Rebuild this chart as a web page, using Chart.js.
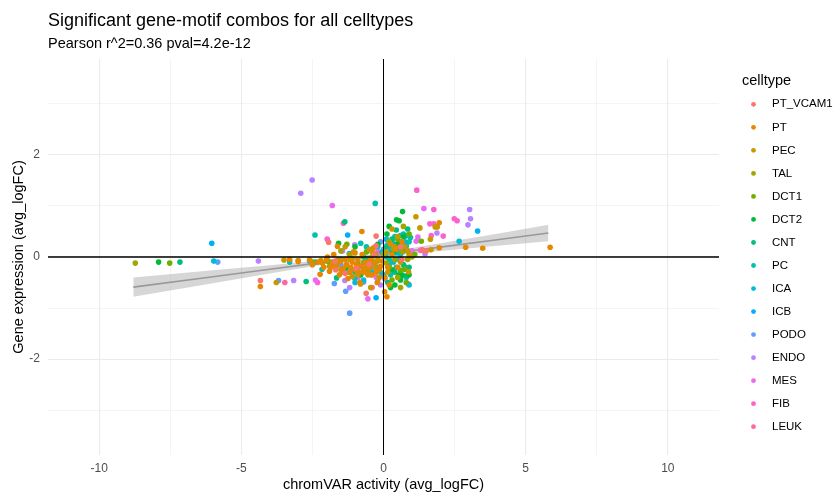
<!DOCTYPE html>
<html>
<head>
<meta charset="utf-8">
<script src="https://cdn.jsdelivr.net/npm/chart.js@4.4.1/dist/chart.umd.min.js"></script>
<style>
  html, body { margin: 0; padding: 0; background: #fff; }
</style>
</head>
<body>
<canvas id="chart" width="834" height="494"></canvas>
<script>
// celltypes in legend order, with ggplot's default hue palette
const celltypes = ['PT_VCAM1', 'PT', 'PEC', 'TAL', 'DCT1', 'DCT2', 'CNT', 'PC', 'ICA', 'ICB', 'PODO', 'ENDO', 'MES', 'FIB', 'LEUK'];
const palette = ['#F8766D', '#E58700', '#C99800', '#A3A500', '#6BB100', '#00BA38', '#00BF7D', '#00C0AF', '#00BCD8', '#00B0F6', '#619CFF', '#B983FF', '#E76BF3', '#FD61D1', '#FF67A4'];

// [chromVAR avg_logFC, gene avg_logFC] per significant combo
const ptVcam1 = [[-4.33,-0.46],[-1.93,0.29],[-1.68,-0.25],[-0.26,0.41],[-0.26,0.22],[-0.61,-0.71],[-0.95,-0.22],[-1.35,-0.32],[-0.5,-0.14],[-0.32,0.04],[0.6,0.2],[1.38,0.13],[1.5,0.12],[-1.7,-0.08],[0.65,-0.05]];
const pt = [[-4.33,-0.58],[-3.3,-0.05],[-3.0,-0.09],[-2.6,-0.06],[-2.3,-0.1],[-2.23,-0.34],[-2.15,-0.12],[-2.1,-0.2],[-2.0,-0.04],[-1.97,0.0],[-1.9,-0.28],[-1.85,-0.2],[-1.8,-0.12],[-1.7,-0.2],[-1.62,0.21],[-1.6,-0.1],[-1.55,-0.35],[-1.5,-0.08],[-1.45,-0.3],[-1.42,-0.22],[-1.35,-0.05],[-1.3,-0.15],[-1.25,-0.42],[-1.2,-0.3],[-1.15,-0.2],[-1.1,-0.1],[-1.05,0.1],[-1.0,-0.25],[-0.95,-0.15],[-0.9,-0.05],[-0.85,-0.3],[-0.83,-0.5],[-0.8,-0.18],[-0.76,0.5],[-0.75,0.05],[-0.7,-0.3],[-0.65,-0.22],[-0.6,-0.1],[-0.55,-0.35],[-0.5,-0.22],[-0.45,-0.05],[-0.4,-0.35],[-0.35,0.18],[-0.3,-0.12],[-0.25,-0.3],[-0.22,-0.5],[-0.15,-0.25],[-0.1,-0.18],[-0.05,-0.08],[0.04,-0.68],[0.05,-0.4],[0.12,-0.78],[0.15,-0.2],[0.2,-0.55],[0.25,0.25],[0.3,0.05],[0.45,0.15],[0.5,-0.2],[0.65,0.3],[1.96,0.67],[1.96,0.18],[2.89,0.19],[3.49,0.17],[5.86,0.19],[-1.75,0.05],[-2.5,-0.15]];
const pec = [[-3.77,-0.5],[-3.5,-0.06],[-3.0,-0.07],[-2.2,-0.07],[-1.8,-0.1],[-1.65,-0.18],[-1.5,-0.25],[-1.35,0.2],[-1.2,-0.05],[-1.1,-0.38],[-1.0,0.08],[-0.9,-0.35],[-0.81,-0.53],[-0.7,-0.25],[-0.6,-0.12],[-0.5,0.15],[-0.45,-0.6],[-0.4,0.1],[-0.3,-0.2],[-0.2,-0.05],[-0.15,-0.4],[0.1,0.1],[0.15,-0.3],[0.3,0.55],[0.4,0.2],[0.5,0.4],[0.6,-0.1],[0.75,0.2],[0.85,0.12],[0.88,-0.29],[0.9,0.05],[1.14,0.79],[1.28,0.57],[1.65,0.35],[1.67,0.14],[1.82,0.59],[1.89,0.59]];
const tal = [[-8.73,-0.12],[-2.5,-0.12],[-2.0,-0.08],[-1.9,-0.18],[-1.6,-0.05],[-1.5,0.12],[-1.3,-0.15],[-1.2,0.05],[-1.1,-0.02],[-0.9,-0.3],[-0.7,-0.1],[-0.55,-0.3],[-0.4,0.0],[-0.29,0.05],[-0.2,-0.08],[0.0,0.05],[0.1,-0.12],[0.2,0.3],[0.35,0.15],[0.4,-0.05],[0.5,-0.4],[0.6,-0.6],[0.65,0.1],[0.7,0.6],[0.85,-0.05],[1.0,0.0]];
const dct1 = [[-7.52,-0.12],[-2.5,-0.1],[-1.8,-0.12],[-1.29,0.25],[-0.9,-0.15],[-0.6,0.1],[-0.3,-0.1],[0.2,-0.2],[0.3,-0.45],[0.5,0.35],[0.6,-0.26],[0.75,-0.24],[0.8,-0.5],[0.9,0.45],[1.1,0.05],[1.33,0.31]];
const dct2 = [[-7.91,-0.1],[-1.58,0.27],[-1.3,-0.2],[-1.0,0.2],[-0.8,-0.35],[-0.5,-0.2],[-0.2,0.25],[0.12,0.45],[0.2,0.6],[0.25,-0.6],[0.3,-0.25],[0.35,0.1],[0.4,-0.55],[0.46,0.73],[0.5,0.25],[0.54,-0.36],[0.55,0.71],[0.6,-0.45],[0.67,0.89],[0.67,-0.36],[0.7,0.4],[0.8,0.15],[0.9,-0.35]];
const cnt = [[-7.16,-0.1],[-2.72,-0.48],[-1.9,-0.1],[-1.65,-0.41],[-1.36,0.69],[-1.0,-0.3],[-0.7,0.0],[-0.5,-0.05],[0.1,0.2],[0.15,-0.5],[0.3,0.35],[0.4,-0.3],[0.45,0.53],[0.6,0.3],[0.7,-0.15],[0.82,-0.37],[0.85,0.55],[0.9,-0.2]];
const pc = [[-3.3,-0.1],[-2.41,0.43],[-2.4,-0.1],[-2.16,-0.24],[-1.5,-0.05],[-1.2,-0.3],[-0.8,0.27],[-0.6,0.2],[-0.4,-0.1],[-0.29,1.05],[-0.2,-0.2],[-0.05,0.1],[0.1,0.0],[0.2,-0.05],[0.25,-0.35],[0.3,0.3],[0.35,-0.1],[0.4,0.4],[0.45,0.08],[0.5,0.12],[0.55,0.18],[0.6,0.15],[0.6,0.42],[0.65,0.2],[0.7,0.12],[0.7,0.45],[0.75,0.4],[0.8,0.22],[0.85,0.42],[0.9,0.3],[0.95,0.38]];
const ica = [[-5.97,-0.08],[-2.6,-0.08],[-1.3,-0.3],[-1.01,-0.42],[-1.0,-0.5],[-0.7,-0.45],[-0.6,-0.05],[-0.4,-0.3],[-0.2,0.2],[-0.1,-0.3],[0.1,0.35],[0.2,-0.15],[0.25,0.15],[0.3,0.1],[0.4,0.25],[0.45,-0.2],[0.5,-0.05],[0.6,0.05],[0.75,-0.19],[0.8,-0.4],[0.9,-0.55],[2.66,0.31]];
const icb = [[-6.04,0.27],[-1.26,0.43],[-1.2,0.07],[-0.9,-0.2],[-0.5,-0.25],[-0.26,-0.8],[0.0,-0.35],[0.05,0.05],[0.2,0.2],[0.6,-0.3],[0.75,0.3],[3.31,0.51]];
const podo = [[-5.83,-0.1],[-3.69,-0.46],[-1.73,-0.52],[-1.5,-0.15],[-1.33,-0.67],[-1.19,-1.1],[-0.7,-0.49],[-0.1,0.3],[0.0,0.15],[0.13,0.24],[0.3,0.12]];
const endo = [[-4.4,-0.08],[-3.16,-0.46],[-2.91,1.25],[-2.51,1.51],[-1.44,0.12],[-1.36,-0.46],[-1.19,-0.6],[-1.01,0.24],[-0.9,-0.1],[-0.8,-0.3],[-0.75,-0.49],[-0.6,-0.2],[-0.45,-0.35],[-0.2,-0.45],[-0.1,-0.55],[0.05,-0.43],[1.46,0.06],[1.88,0.47],[2.97,0.63],[3.03,0.93],[3.06,0.75]];
const mes = [[-2.39,-0.45],[-1.8,1.01],[-1.1,-0.25],[-0.9,-0.4],[-0.7,-0.12],[-0.55,-0.82],[-0.4,-0.2],[-0.25,-0.4],[0.88,-0.53],[1.0,0.12],[1.15,0.31],[1.21,0.39],[1.42,0.95]];
const fib = [[-2.32,-0.5],[-1.98,0.35],[-1.41,0.66],[-0.2,0.1],[1.17,1.31],[1.3,0.13],[1.35,0.14],[1.63,0.65],[1.68,0.42],[1.77,0.65],[1.77,0.93],[2.1,0.41],[2.49,0.75],[2.59,0.71]];
const leuk = [[-3.47,-0.5],[-0.4,-0.6],[0.3,0.15],[1.45,0.12]];

const pointsByType = [ptVcam1, pt, pec, tal, dct1, dct2, cnt, pc, ica, icb, podo, endo, mes, fib, leuk];

// lm fit with its 95% band
const fitX = [-8.8, -6, -4, -2, -1, 0, 1, 2, 4, 5.8];
const fitY = [-0.59, -0.387, -0.241, -0.096, -0.024, 0.049, 0.122, 0.194, 0.339, 0.47];
const fitLow = [-0.78, -0.512, -0.321, -0.136, -0.054, 0.013, 0.069, 0.12, 0.221, 0.31];
const fitHigh = [-0.40, -0.262, -0.161, -0.056, 0.006, 0.085, 0.175, 0.268, 0.457, 0.63];

// axes
const xLimits = [-11.8, 11.8];
const yLimits = [-3.88, 3.88];
const xTicks = [-10, -7.5, -5, -2.5, 0, 2.5, 5, 7.5, 10];
const yTicks = [-3, -2, -1, 0, 1, 2, 3];

const FONT = '"Liberation Sans", Arial, sans-serif';
Chart.defaults.font.family = FONT;

const toXY = (xs, ys) => xs.map((x, i) => ({ x, y: ys[i] }));

const pointSets = celltypes.map((name, i) => ({
  label: name,
  data: pointsByType[i].map(([x, y]) => ({ x, y })),
  backgroundColor: palette[i],
  borderColor: palette[i],
  borderWidth: 0,
  pointRadius: 2.8,
  pointHoverRadius: 2.8,
  order: 2
}));

const lineSets = [
  { label: 'se_low', data: toXY(fitX, fitLow), showLine: true, pointRadius: 0,
    borderColor: 'transparent', fill: false, order: 3 },
  { label: 'se_high', data: toXY(fitX, fitHigh), showLine: true, pointRadius: 0,
    borderColor: 'transparent', fill: '-1', backgroundColor: 'rgba(153,153,153,0.4)', order: 3 },
  { label: 'fit', data: toXY(fitX, fitY), showLine: true, pointRadius: 0,
    borderColor: '#999999', borderWidth: 1.6, fill: false, order: 3 },
  { label: 'hline', data: toXY(xLimits, [0, 0]), showLine: true, pointRadius: 0,
    borderColor: '#000', borderWidth: 1.3, fill: false, order: 1 },
  { label: 'vline', data: toXY([0, 0], yLimits), showLine: true, pointRadius: 0,
    borderColor: '#000', borderWidth: 1, fill: false, order: 1 }
];

// title, subtitle and the celltype key
const pageText = {
  id: 'pageText',
  afterDraw(chart) {
    const { ctx, chartArea } = chart;
    ctx.save();
    ctx.fillStyle = '#000';
    ctx.textAlign = 'left';
    ctx.textBaseline = 'alphabetic';
    ctx.font = '18px ' + FONT;
    ctx.fillText('Significant gene-motif combos for all celltypes', chartArea.left, 26);
    ctx.font = '14.5px ' + FONT;
    ctx.fillText('Pearson r^2=0.36 pval=4.2e-12', chartArea.left, 48);

    ctx.font = '14.5px ' + FONT;
    ctx.fillText('celltype', 742, 85);
    ctx.font = '11.5px ' + FONT;
    ctx.textBaseline = 'middle';
    celltypes.forEach((name, i) => {
      const y = 104.3 + i * 23.03;
      ctx.beginPath();
      ctx.arc(753.5, y, 2.4, 0, Math.PI * 2);
      ctx.fillStyle = palette[i];
      ctx.fill();
      ctx.fillStyle = '#000';
      ctx.fillText(name, 772, y);
    });
    ctx.restore();
  }
};

const gridColor = '#ebebeb';

new Chart(document.getElementById('chart'), {
  type: 'scatter',
  data: { datasets: [...pointSets, ...lineSets] },
  options: {
    responsive: false,
    animation: false,
    events: [],
    layout: { padding: { top: 59, right: 115, bottom: 0, left: 0 } },
    plugins: {
      legend: { display: false },
      tooltip: { enabled: false }
    },
    scales: {
      x: {
        type: 'linear',
        min: xLimits[0],
        max: xLimits[1],
        afterBuildTicks: s => { s.ticks = xTicks.map(v => ({ value: v })); },
        afterFit: s => { s.height = 39; },
        border: { display: false },
        grid: {
          drawTicks: false,
          color: gridColor,
          lineWidth: c => (c.tick && c.tick.value % 5 === 0 ? 1.1 : 0.55)
        },
        ticks: {
          autoSkip: false,
          maxRotation: 0,
          padding: 6,
          color: '#4d4d4d',
          font: { size: 12 },
          callback: v => (v % 5 === 0 ? String(v) : '')
        },
        title: {
          display: true,
          text: 'chromVAR activity (avg_logFC)',
          color: '#000',
          font: { size: 14.5 },
          padding: { top: 0, bottom: 0 }
        }
      },
      y: {
        type: 'linear',
        min: yLimits[0],
        max: yLimits[1],
        afterBuildTicks: s => { s.ticks = yTicks.map(v => ({ value: v })); },
        afterFit: s => { s.width = 48; },
        border: { display: false },
        grid: {
          drawTicks: false,
          color: gridColor,
          lineWidth: c => (c.tick && c.tick.value % 2 === 0 ? 1.1 : 0.55)
        },
        ticks: {
          autoSkip: false,
          padding: 8,
          color: '#4d4d4d',
          font: { size: 12 },
          callback: v => (v % 2 === 0 ? String(v) : '')
        },
        title: {
          display: true,
          text: 'Gene expression (avg_logFC)',
          color: '#000',
          font: { size: 14.5 },
          padding: { top: 10, bottom: 0 }
        }
      }
    }
  },
  plugins: [pageText]
});
</script>
</body>
</html>
